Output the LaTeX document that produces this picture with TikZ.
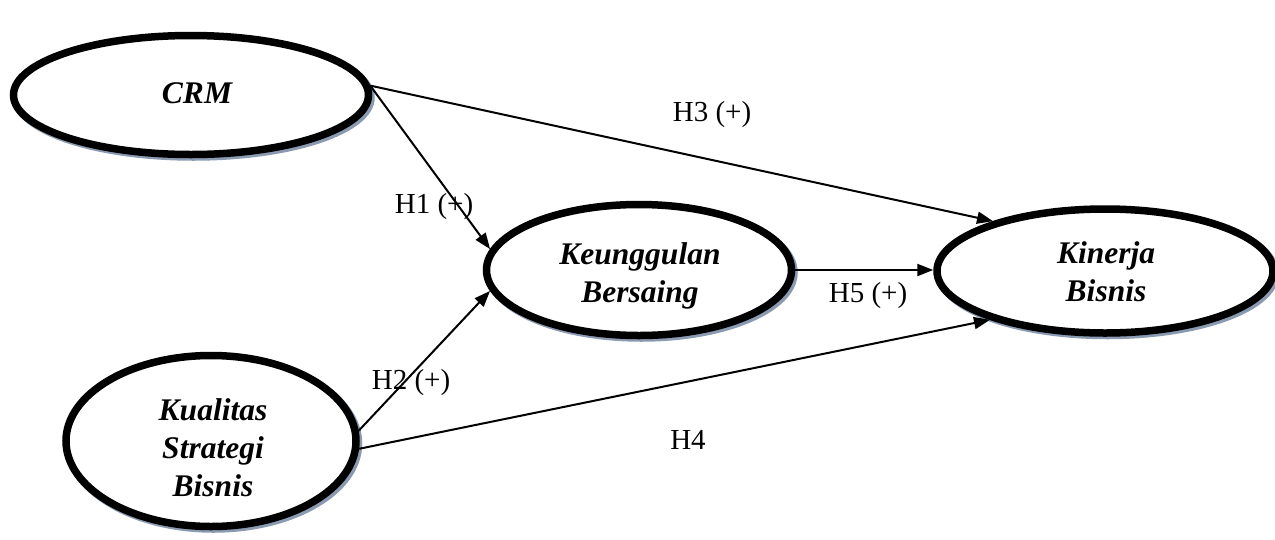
\documentclass[tikz,border=0pt]{standalone}
\usepackage{fontspec}
\setmainfont{Liberation Serif}
\usetikzlibrary{shapes.geometric,arrows.meta}
\definecolor{shadowc}{RGB}{138,154,176}
\tikzset{
  var/.style={ellipse, draw=black, line width=7.5pt, fill=white, inner sep=0pt,
    preaction={draw=shadowc, line width=7.5pt, transform canvas={xshift=2.5pt,yshift=-2.5pt}}},
  vtxt/.style={font=\fontsize{31.5}{38}\selectfont\bfseries\itshape, align=center},
  conn/.style={line width=2pt, -{Triangle[length=16pt,width=12pt]}},
  lbl/.style={font=\fontsize{29}{34}\selectfont, inner sep=0pt}
}
\begin{document}
\begin{tikzpicture}[x=1pt,y=-1pt]
\useasboundingbox[fill=white] (0,0) rectangle (1275,539);
\node[var, minimum width=355pt, minimum height=119pt] (crm) at (191,95) {};
\node[vtxt] (crmt) at (197,93) {CRM};
\node[var, minimum width=290pt, minimum height=171pt] (kual) at (211,441) {};
\node[vtxt] (kualt) at (213,448) {Kualitas\\Strategi\\Bisnis};
\node[var, minimum width=305pt, minimum height=131pt] (keu) at (639,270) {};
\node[vtxt] (keut) at (640,276) {Keunggulan\\Bersaing};
\node[var, minimum width=336pt, minimum height=124pt] (kin) at (1105,271) {};
\node[vtxt] (kint) at (1106,272) {Kinerja\\Bisnis};

\draw[conn] (crm.3) -- (keu.172);
\draw[conn] (crm.3) -- (kin.156);
\draw[conn] (kual.4) -- (keu.188);
\draw[conn] (kual.-3) -- (kin.203);
\draw[conn] (keu.east) -- (keu.east -| kin.west);

\node[lbl] (h3) at (712,115) {H3 (+)};
\node[lbl] (h1) at (434,207) {H1 (+)};
\node[lbl] (h2) at (411,383) {H2 (+)};
\node[lbl] (h4) at (688,440) {H4};
\node[lbl] (h5) at (868,296) {H5 (+)};
\end{tikzpicture}
\end{document}
